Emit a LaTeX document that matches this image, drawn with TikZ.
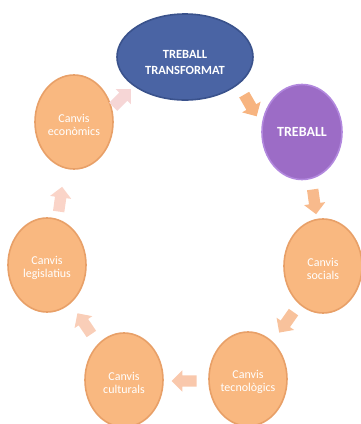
\documentclass[tikz,border=0pt]{standalone}
\usepackage{fontspec}
\setmainfont{Carlito}
\usetikzlibrary{shapes.geometric,shapes.arrows}
\definecolor{orC}{RGB}{249,184,128}
\definecolor{orD}{RGB}{232,160,104}
\definecolor{blC}{RGB}{74,100,164}
\definecolor{blD}{RGB}{58,82,140}
\definecolor{puC}{RGB}{156,108,198}
\definecolor{puD}{RGB}{178,136,222}
\definecolor{arA}{RGB}{247,180,128}
\definecolor{arB}{RGB}{248,186,140}
\definecolor{arC}{RGB}{248,194,156}
\definecolor{arD}{RGB}{249,200,172}
\definecolor{arE}{RGB}{249,206,184}
\definecolor{arF}{RGB}{250,212,200}
\definecolor{arG}{RGB}{246,214,214}
\tikzset{
  bubble/.style={ellipse, inner sep=0pt, line width=1.6pt},
  btext/.style={text=white, align=center, font=\fontsize{12}{13}\selectfont, yshift=-3pt},
  orbub/.style={bubble, fill=orC, draw=orD, minimum width=78pt, minimum height=94pt},
  cyc/.style={single arrow, inner sep=5.5pt, minimum height=25pt,
    single arrow head extend=5pt, draw=none}
}
\begin{document}
\begin{tikzpicture}[x=1pt,y=-1pt]
\useasboundingbox (0,0) rectangle (361,424);
\node[bubble, fill=blC, draw=blD, minimum width=136pt, minimum height=86pt,
  label={[btext, yshift=-2pt, font=\bfseries\fontsize{12.5}{16}\selectfont]center:TREBALL\\TRANSFORMAT}] (trans) at (185,57) {};
\node[bubble, fill=puC, draw=puD, minimum width=80pt, minimum height=95pt,
  label={[btext, yshift=3pt, font=\bfseries\fontsize{14}{16}\selectfont]center:TREBALL}] (treb) at (302,132) {};
\node[orbub, label={[btext]center:Canvis\\socials}] (soc) at (323,266) {};
\node[orbub, label={[btext]center:Canvis\\tecnològics}] (tec) at (248,379) {};
\node[orbub, label={[btext]center:Canvis\\culturals}] (cul) at (124,380) {};
\node[orbub, label={[btext]center:Canvis\\legislatius}] (leg) at (47,265) {};
\node[orbub, label={[btext]center:Canvis\\econòmics}] (eco) at (74,122) {};
\node[cyc, fill=arA, rotate=-60] (a1) at (249,103) {};
\node[cyc, fill=arB, rotate=-82] (a2) at (314,199) {};
\node[cyc, fill=arC, rotate=-125] (a3) at (288,320) {};
\node[cyc, fill=arD, rotate=180] (a4) at (187,381) {};
\node[cyc, fill=arE, rotate=124] (a5) at (86,326) {};
\node[cyc, fill=arF, rotate=82] (a6) at (60,202) {};
\node[cyc, fill=arG, rotate=45] (a7) at (120,100) {};
\end{tikzpicture}
\end{document}
